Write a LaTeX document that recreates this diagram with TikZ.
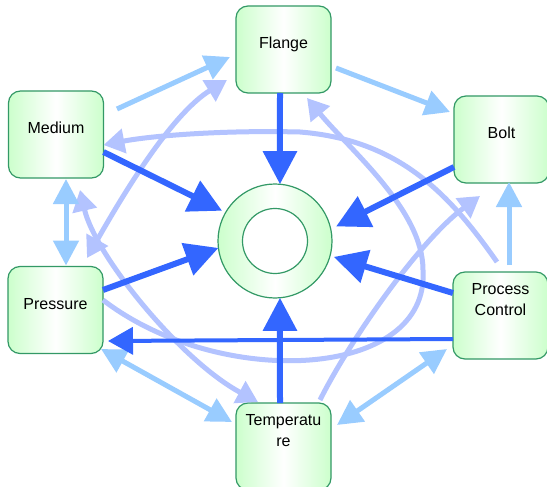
\documentclass[tikz,border=0pt]{standalone}
\usepackage{fontspec}
\setmainfont{Liberation Sans}
\usepackage{tikz}
\usetikzlibrary{arrows.meta,shapes}

\definecolor{darkblue}{HTML}{3366FF}
\definecolor{lightblue}{HTML}{99CCFF}
\definecolor{lavender}{HTML}{B3C3FF}
\definecolor{boxgreen}{HTML}{339966}
\definecolor{boxfill}{HTML}{CCFFCC}

\begin{document}
\begin{tikzpicture}[x=1pt,y=-1pt,
    box node/.style={draw=boxgreen,line width=1.2pt,rounded corners=12pt,
      minimum width=95pt,minimum height=87pt,outer sep=0pt,
      left color=boxfill,right color=boxfill,middle color=white,
      font=\fontsize{16}{21}\selectfont,align=center,text depth=13pt},
    ring node/.style={circle,draw=boxgreen,line width=1.2pt,outer sep=0pt,
      left color=boxfill,right color=boxfill,middle color=white},
    strong arrow/.style={draw=darkblue,line width=6pt,
      >={Triangle[length=33pt,width=33pt]}},
    thin arrow/.style={draw=darkblue,line width=4pt,
      >={Triangle[length=25pt,width=27pt]}},
    light arrow/.style={draw=lightblue,line width=5pt,
      >={Triangle[length=25pt,width=25pt]}},
    soft arrow/.style={draw=lavender,line width=5pt,
      >={Triangle[length=21pt,width=24pt]}}]
  \fill[white] (0,0) rectangle (547,487);
  \useasboundingbox (0,0) rectangle (547,487);

  \node[box node] (flange) at (283.5,49.5) {Flange};
  \node[box node] (medium) at (56,134.5) {Medium};
  \node[box node] (bolt) at (501.5,139.5) {Bolt};
  \node[box node] (pressure) at (55.5,310) {Pressure};
  \node[box node,text depth=32pt] (pc) at (500.5,315.5) {Process\\Control};
  \node[box node,text depth=32pt] (temp) at (283.5,446.5) {Temperatu\\re};
  \node[ring node,minimum size=114pt] (ring) at (275,241) {};
  \node[circle,draw=boxgreen,line width=1.2pt,fill=white,
        minimum size=65pt] (hole) at (ring) {};

  % curved links
  \draw[soft arrow,->] ([shift={(0,-10)}]pressure.east)
     .. controls (220,390) and (430,380) .. (423,270)
     .. controls (423,210) and (350,150) .. ([shift={(23.5,5)}]flange.south);
  \draw[soft arrow,->] ([shift={(-3.5,-10)}]pc.north)
     .. controls (450,195) and (400,140) .. (300,132)
     .. controls (220,130) and (150,136) .. ([shift={(0,10.5)}]medium.east);
  \draw[soft arrow,->] ([shift={(-11,-3)}]temp.north east)
     .. controls (350,340) and (420,240) .. ([shift={(26,13)}]bolt.south west);
  \draw[soft arrow,<->] ([shift={(24,12)}]medium.south)
     .. controls (95,255) and (180,360) .. ([shift={(22,-1)}]temp.north west);
  \draw[soft arrow,<->] ([shift={(-9,30.5)}]flange.west)
     .. controls (170,115) and (120,200) .. ([shift={(31.5,-8.5)}]pressure.north);

  % light links
  \draw[light arrow,->] ([shift={(13.5,-25.5)}]medium.east) -- ([shift={(-6,7.5)}]flange.west);
  \draw[light arrow,->] ([shift={(5,18.5)}]flange.east) -- ([shift={(-4,-27.5)}]bolt.west);
  \draw[light arrow,<->] ([shift={(10,1)}]medium.south) -- ([shift={(10.5,-1)}]pressure.north);
  \draw[light arrow,<->] ([shift={(-2,-4.5)}]pressure.south east) -- ([shift={(-4,-24.5)}]temp.west);
  \draw[light arrow,->] ([shift={(8.5,-7)}]pc.north) -- ([shift={(7.5,-1)}]bolt.south);
  \draw[light arrow,<->] ([shift={(6,-21.5)}]temp.east) -- ([shift={(-6,33.5)}]pc.west);

  % into the ring
  \draw[strong arrow,->] ([shift={(-3.5,0)}]flange.south) -- (ring.85);
  \draw[strong arrow,->,shorten >=4pt] ([shift={(0,17.5)}]medium.east) -- (ring.150);
  \draw[strong arrow,->,shorten >=6pt] ([shift={(0,27.5)}]bolt.west) -- (ring.12);
  \draw[strong arrow,->] ([shift={(0,-20)}]pressure.east) -- (ring.187);
  \draw[strong arrow,->,shorten >=4pt] ([shift={(0,-22.5)}]pc.west) -- (ring.-15);
  \draw[strong arrow,->] ([shift={(-3.5,0)}]temp.north) -- (ring.-85);
  \draw[thin arrow,->] ([shift={(0,23.5)}]pc.west) -- ([shift={(5,31)}]pressure.east);
\end{tikzpicture}
\end{document}
